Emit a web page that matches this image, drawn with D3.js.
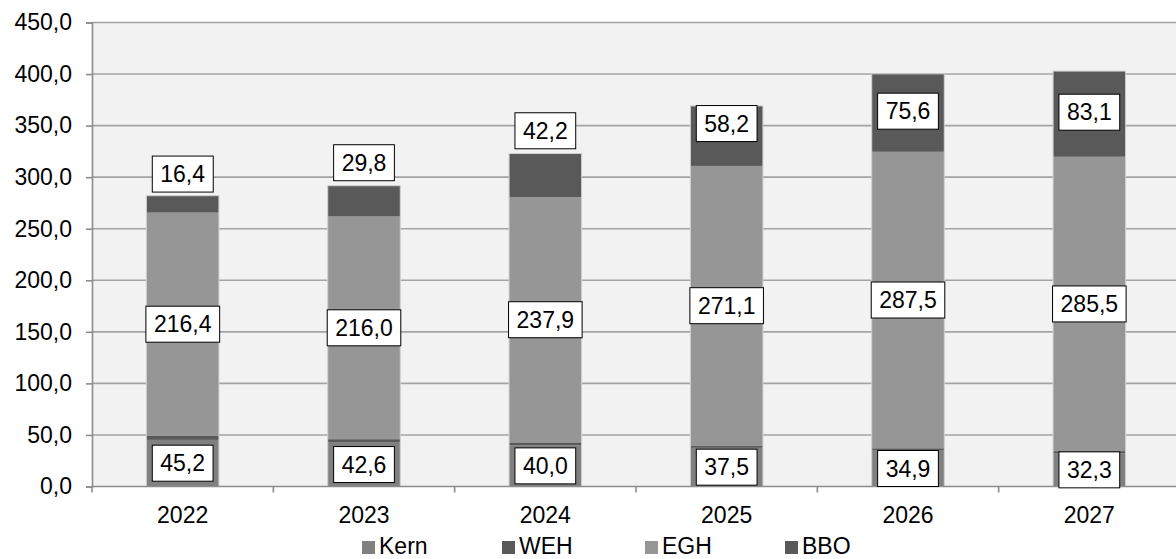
<!DOCTYPE html>
<html>
<head>
<meta charset="utf-8">
<script src="https://cdn.jsdelivr.net/npm/d3@7/dist/d3.min.js"></script>
<style>
  html, body { margin: 0; padding: 0; background: #ffffff; }
  svg { display: block; font-family: "Liberation Sans", Arial, sans-serif; }
</style>
</head>
<body>
<svg id="chart" width="1176" height="559"></svg>
<script>
// ---- data ----
const years = ["2022", "2023", "2024", "2025", "2026", "2027"];
const seriesNames = ["Kern", "WEH", "EGH", "BBO"];
const kern = [45.2, 42.6, 40.0, 37.5, 34.9, 32.3];
const weh  = [4.0, 3.3, 2.8, 2.3, 2.2, 2.0];
const egh  = [216.4, 216.0, 237.9, 271.1, 287.5, 285.5];
const bbo  = [16.4, 29.8, 42.2, 58.2, 75.6, 83.1];
// value at which each BBO label box is centred (labels were moved in the original)
const bboLabelAt = [303, 314, 345, 352, 364, 363];
const yTicks = [0, 50, 100, 150, 200, 250, 300, 350, 400, 450];

(function () {
// ---- layout ----
const svg = d3.select("#chart");
const pLeft = 92, pRight = 1180, pTop = 22.5, pBottom = 486.5;
const FONT = 23;

const x = d3.scaleBand().domain(years).range([pLeft, pRight]).paddingInner(0.6).paddingOuter(0.3);
const y = d3.scaleLinear().domain([0, 450]).range([pBottom, pTop]);

const colors = { Kern: "#808080", WEH: "#595959", EGH: "#969696", BBO: "#595959" };

// plot background
svg.append("rect").attr("x", pLeft).attr("y", pTop).attr("width", pRight - pLeft).attr("height", pBottom - pTop).attr("fill", "#f2f2f2");

// gridlines
svg.append("g").selectAll("line").data(yTicks.filter(d => d > 0)).join("line")
  .attr("x1", pLeft).attr("x2", pRight)
  .attr("y1", d => y(d)).attr("y2", d => y(d))
  .attr("stroke", "#a3a3a3").attr("stroke-width", 1.6);

// stacked data
const rows = years.map((yr, i) => ({ year: yr, Kern: kern[i], WEH: weh[i], EGH: egh[i], BBO: bbo[i] }));
const stack = d3.stack().keys(seriesNames)(rows);

svg.append("g").selectAll("g").data(stack).join("g")
  .attr("fill", d => colors[d.key])
  .selectAll("rect").data(d => d).join("rect")
  .attr("x", d => x(d.data.year))
  .attr("width", x.bandwidth())
  .attr("y", d => y(d[1]))
  .attr("height", d => y(d[0]) - y(d[1]));

// bar outline (light)
const total = d => d.Kern + d.WEH + d.EGH + d.BBO;
svg.append("g").selectAll("rect").data(rows).join("rect")
  .attr("x", d => x(d.year))
  .attr("width", x.bandwidth())
  .attr("y", d => y(total(d)))
  .attr("height", d => pBottom - y(total(d)))
  .attr("fill", "none").attr("stroke", "#d0d0d0").attr("stroke-width", 1);

// y axis
const yAxis = d3.axisLeft(y).tickValues(yTicks).tickSize(6).tickPadding(14)
  .tickFormat(d => d3.format(".1f")(d).replace(".", ","));
const gy = svg.append("g").attr("transform", `translate(${pLeft},0)`).call(yAxis);
gy.select(".domain").attr("stroke", "#8c8c8c").attr("stroke-width", 1.6);
gy.selectAll(".tick line").attr("stroke", "#8c8c8c").attr("stroke-width", 1.6);
gy.selectAll(".tick text").attr("font-size", FONT).attr("fill", "#000").attr("font-family", "Liberation Sans, Arial, sans-serif");

// x axis
svg.append("line").attr("x1", pLeft).attr("x2", pRight).attr("y1", pBottom).attr("y2", pBottom)
  .attr("stroke", "#8c8c8c").attr("stroke-width", 1.6);
const boundaries = years.map((yr, i) => pLeft + i * x.step());
svg.append("g").selectAll("line").data(boundaries).join("line")
  .attr("x1", d => d).attr("x2", d => d).attr("y1", pBottom).attr("y2", pBottom + 6)
  .attr("stroke", "#8c8c8c").attr("stroke-width", 1.6);
svg.append("g").selectAll("text").data(years).join("text")
  .attr("x", d => x(d) + x.bandwidth() / 2)
  .attr("y", 522.5)
  .attr("text-anchor", "middle").attr("font-size", FONT).attr("fill", "#000")
  .text(d => d);

// data labels
const fmt = v => d3.format(".1f")(v).replace(".", ",");
const labels = [];
rows.forEach((r, i) => {
  labels.push({ year: r.year, v: r.Kern, at: r.Kern / 2 });
  labels.push({ year: r.year, v: r.EGH, at: r.Kern + r.WEH + r.EGH / 2 });
  labels.push({ year: r.year, v: r.BBO, at: bboLabelAt[i] });
});
const lg = svg.append("g").selectAll("g").data(labels).join("g")
  .attr("transform", d => `translate(${x(d.year) + x.bandwidth() / 2},${y(d.at)})`);
lg.append("text").attr("text-anchor", "middle").attr("dy", "0.35em")
  .attr("font-size", FONT).attr("fill", "#000").text(d => fmt(d.v));
lg.each(function () {
  const g = d3.select(this);
  const bb = g.select("text").node().getBBox();
  const padX = 8, h = 36;
  g.insert("rect", "text")
    .attr("x", bb.x - padX).attr("y", -h / 2)
    .attr("width", bb.width + padX * 2).attr("height", h)
    .attr("fill", "#fff").attr("stroke", "#000").attr("stroke-width", 1);
});

// legend
const legX = [362, 502, 645, 785];
const leg = svg.append("g").selectAll("g").data(seriesNames).join("g")
  .attr("transform", (d, i) => `translate(${legX[i]},0)`);
leg.append("rect").attr("x", 0).attr("y", 541).attr("width", 13).attr("height", 13)
  .attr("fill", d => colors[d]);
leg.append("text").attr("x", 17).attr("y", 554).attr("font-size", FONT).attr("fill", "#000").text(d => d);
})();
</script>
</body>
</html>
